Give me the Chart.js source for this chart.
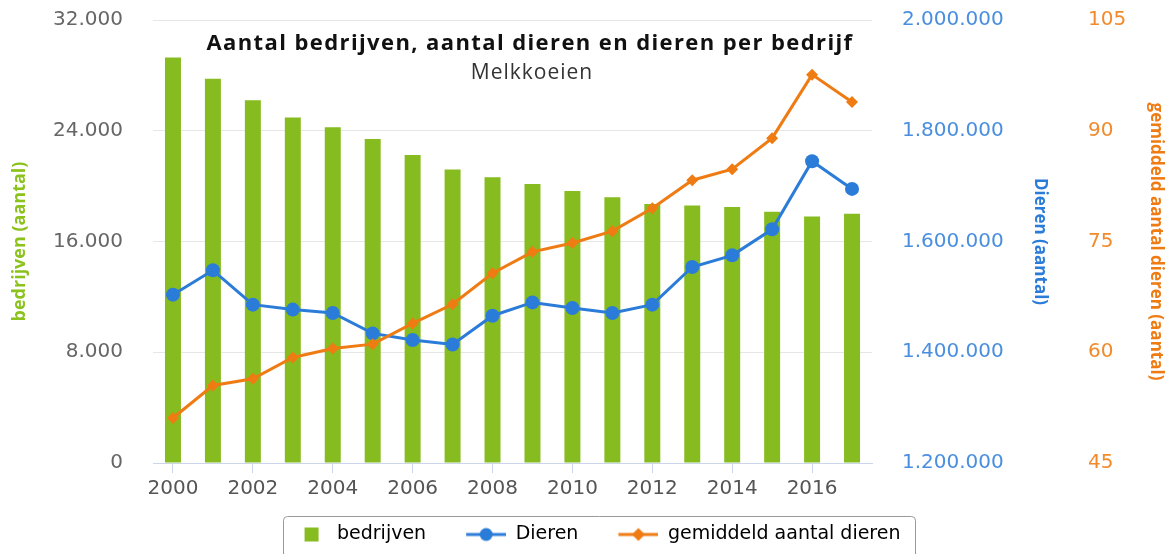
<!DOCTYPE html>
<html>
<head>
<meta charset="utf-8">
<script src="https://cdn.jsdelivr.net/npm/chart.js@4"></script>
<style>
  html, body { margin: 0; padding: 0; background: #fff; }
  #wrap { width: 1170px; height: 554px; }
</style>
</head>
<body>
<div id="wrap"><canvas id="melkChart"></canvas></div>
<script>
// Gegevens
const jaren = ["2000", "2001", "2002", "2003", "2004", "2005", "2006", "2007", "2008",
               "2009", "2010", "2011", "2012", "2013", "2014", "2015", "2016", "2017"];
const bedrijven = [29300, 27750, 26200, 24950, 24250, 23400, 22250, 21200, 20650,
                   20150, 19650, 19200, 18700, 18600, 18500, 18150, 17800, 18000];
const dieren = [1504000, 1548000, 1486000, 1477000, 1471000, 1434000, 1422000, 1414000, 1466000,
                1490000, 1480000, 1471000, 1486000, 1554000, 1575000, 1622000, 1745000, 1695000];
const gemiddeld = [51.1, 55.5, 56.4, 59.3, 60.5, 61.1, 63.9, 66.5, 70.7,
                   73.6, 74.8, 76.4, 79.5, 83.3, 84.8, 89.0, 97.6, 93.9];

const titel = "Aantal bedrijven, aantal dieren en dieren per bedrijf";
const subtitel = "Melkkoeien";

const groen = "#86bc1f";
const blauw = "#2b7cd8";
const oranje = "#ef7b13";

// punt als duizendtalscheiding
function fmt(v) {
    return String(v).replace(/\B(?=(\d{3})+(?!\d))/g, ".");
}

// Legenda-iconen (58 breed, links 18px lucht als afstand tussen items)
function maakIcoon(type, kleur) {
    const c = document.createElement("canvas");
    c.width = 58; c.height = 16;
    const g = c.getContext("2d");
    g.fillStyle = kleur;
    g.strokeStyle = kleur;
    if (type === "vak") {
        g.fillRect(35, 1, 14, 14);
        return c;
    }
    g.lineWidth = 3;
    g.beginPath(); g.moveTo(18, 8); g.lineTo(58, 8); g.stroke();
    g.beginPath();
    if (type === "rond") {
        g.arc(38, 8, 6.5, 0, Math.PI * 2);
    } else {
        g.moveTo(38, 1.5); g.lineTo(44.5, 8); g.lineTo(38, 14.5); g.lineTo(31.5, 8); g.closePath();
    }
    g.fill();
    return c;
}
const iconen = [maakIcoon("vak", groen), maakIcoon("rond", blauw), maakIcoon("ruit", oranje)];

// Titel in het plotvlak + kader om de legenda
const extraPlugin = {
    id: "extra",
    afterDraw(chart) {
        const c = chart.ctx;
        c.save();
        c.textAlign = "center";
        c.textBaseline = "middle";
        c.fillStyle = "#111";
        c.font = 'bold 22px "Open Sans"';
        c.letterSpacing = "1.4px";
        c.fillText(titel, 530, 44);
        c.fillStyle = "#333";
        c.font = '21px "Open Sans"';
        c.letterSpacing = "1px";
        c.fillText(subtitel, 532, 73);
        c.letterSpacing = "0px";

        const boxes = chart.legend.legendHitBoxes;
        if (boxes && boxes.length) {
            const eerste = boxes[0], laatste = boxes[boxes.length - 1];
            const x0 = eerste.left + 13;
            const x1 = laatste.left + laatste.width + 14;
            const y0 = eerste.top - 9;
            c.strokeStyle = "#9a9a9a";
            c.lineWidth = 1;
            c.beginPath();
            c.roundRect(Math.round(x0) + 0.5, Math.round(y0) + 0.5, Math.round(x1 - x0), 80, 4);
            c.stroke();
        }
        c.restore();
    }
};

const tickFont = { family: "DejaVu Sans", size: 20 };
const titelFont = size => ({ family: "Open Sans", size: size, weight: "bold" });

const ctx = document.getElementById("melkChart").getContext("2d");

const melkChart = new Chart(ctx, {
    type: "bar",
    data: {
        labels: jaren,
        datasets: [
            {
                label: "bedrijven", data: bedrijven, yAxisID: "y",
                backgroundColor: groen, barPercentage: 0.4, categoryPercentage: 1, order: 10
            },
            {
                type: "line", label: "Dieren", data: dieren, yAxisID: "y1",
                borderColor: blauw, backgroundColor: blauw, borderWidth: 3,
                pointRadius: 7, pointBorderWidth: 0, pointStyle: "circle", tension: 0, order: 1
            },
            {
                type: "line", label: "gemiddeld aantal dieren", data: gemiddeld, yAxisID: "y2",
                borderColor: oranje, backgroundColor: oranje, borderWidth: 3,
                pointRadius: 6, pointBorderWidth: 0, pointStyle: "rectRot", tension: 0, order: 0
            }
        ]
    },
    options: {
        responsive: true,
        maintainAspectRatio: false,
        animation: false,
        layout: { padding: { top: 20, left: 0, right: 0, bottom: 0 } },
        plugins: {
            tooltip: { enabled: false },
            legend: {
                position: "bottom",
                labels: {
                    usePointStyle: true,
                    pointStyleWidth: 58,
                    padding: 22,
                    color: "#555",
                    font: { family: "DejaVu Sans", size: 19 },
                    sort: (a, b) => a.datasetIndex - b.datasetIndex,
                    generateLabels: chart => chart.data.datasets.map((ds, i) => ({
                        text: ds.label,
                        datasetIndex: i,
                        pointStyle: iconen[i],
                        fillStyle: "transparent",
                        strokeStyle: "transparent",
                        lineWidth: 0,
                        hidden: false
                    }))
                }
            }
        },
        scales: {
            x: {
                offset: true,
                afterFit: s => { s.height = 40; },
                grid: {
                    offset: false,
                    drawOnChartArea: false,
                    drawTicks: true,
                    tickLength: 10,
                    color: c => (c.index % 2 === 0 ? "#ccd6eb" : "transparent")
                },
                border: { display: true, color: "#ccd6eb", width: 1 },
                ticks: {
                    autoSkip: false,
                    maxRotation: 0,
                    padding: 4,
                    color: "#555",
                    font: tickFont,
                    callback: (v, i) => (i % 2 === 0 ? jaren[i] : "")
                }
            },
            y: {
                position: "left",
                min: 0, max: 32000,
                afterFit: s => { s.width = 153; },
                grid: { color: "#e6e6e6", drawTicks: true, tickLength: 25, tickColor: "transparent" },
                border: { display: false },
                ticks: {
                    stepSize: 8000, padding: 5, color: "#666",
                    font: tickFont,
                    callback: v => fmt(v)
                },
                title: {
                    display: true, text: "bedrijven (aantal)", color: "#8cc21c",
                    font: titelFont(18),
                    padding: { top: 9, bottom: 0 }
                }
            },
            y1: {
                position: "right",
                min: 1200000, max: 2000000,
                afterFit: s => { s.width = 178; },
                grid: { drawOnChartArea: false, color: "transparent", drawTicks: true, tickLength: 25, tickColor: "transparent" },
                border: { display: false },
                ticks: {
                    stepSize: 200000, padding: 5, color: "#4a8fdf",
                    font: tickFont,
                    callback: v => fmt(v)
                },
                title: {
                    display: true, text: "Dieren (aantal)", color: blauw,
                    font: titelFont(17),
                    padding: { top: 0, bottom: 0 }
                }
            },
            y2: {
                position: "right",
                min: 45, max: 105,
                afterFit: s => { s.width = 120; },
                grid: { drawOnChartArea: false, color: "transparent", drawTicks: true, tickLength: 33, tickColor: "transparent" },
                border: { display: false },
                ticks: {
                    stepSize: 15, padding: 5, color: "#f28a2c",
                    font: tickFont,
                    callback: v => fmt(v)
                },
                title: {
                    display: true, text: "gemiddeld aantal dieren (aantal)", color: oranje,
                    font: titelFont(17),
                    padding: { top: 4, bottom: 0 }
                }
            }
        }
    },
    plugins: [extraPlugin]
});
</script>
</body>
</html>
